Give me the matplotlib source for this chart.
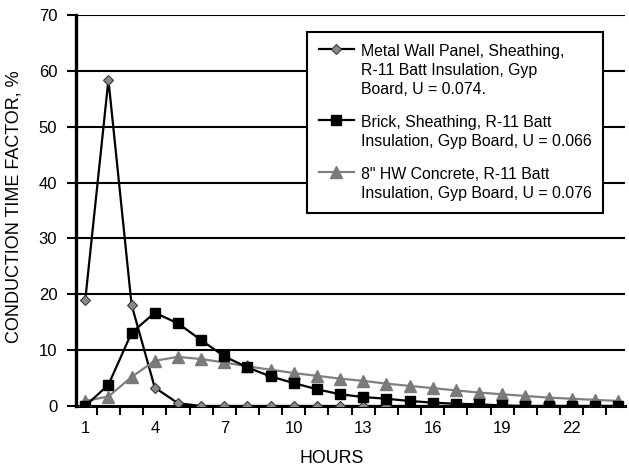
import matplotlib
matplotlib.use("Agg")
import matplotlib.pyplot as plt
import numpy as np

plt.rcParams['font.family'] = ['Liberation Sans', 'DejaVu Sans']

hours = list(range(1, 25))
metal = [19.0, 58.4, 18.1, 3.3, 0.5] + [0.0] * 19
brick = [0.0, 3.8, 13.1, 16.7, 14.8, 11.8, 8.9, 6.9, 5.3, 4.1, 3.0, 2.1,
         1.6, 1.3, 0.9, 0.6, 0.4, 0.3, 0.1, 0.0, 0.0, 0.0, 0.0, 0.0]
concrete = [0.9, 1.7, 5.2, 8.1, 8.8, 8.4, 7.8, 7.1, 6.5, 5.9, 5.4, 4.9,
            4.5, 4.0, 3.6, 3.2, 2.8, 2.4, 2.1, 1.8, 1.5, 1.3, 1.1, 0.9]

labels = ["Metal Wall Panel, Sheathing,\nR-11 Batt Insulation, Gyp\nBoard, U = 0.074.",
          "Brick, Sheathing, R-11 Batt\nInsulation, Gyp Board, U = 0.066",
          "8\" HW Concrete, R-11 Batt\nInsulation, Gyp Board, U = 0.076"]
xlabels = [1, 4, 7, 10, 13, 16, 19, 22]
yticks = [0, 10, 20, 30, 40, 50, 60, 70]

fig = plt.figure(figsize=(6.29, 4.69), dpi=100)
ax = fig.add_axes([76/629, 63/469, 549/629, 391/469])

for y in yticks[1:]:
    ax.axhline(y, color='black', lw=1.5, zorder=1)

l_metal, = ax.plot(hours, metal, color='black', lw=1.6, marker='D', markersize=5.3,
                   markerfacecolor='#8a8a8a', markeredgecolor='#3a3a3a', markeredgewidth=0.8,
                   zorder=3)
l_conc, = ax.plot(hours, concrete, color='#808080', lw=1.6, marker='^', markersize=8,
                  markerfacecolor='#7a7a7a', markeredgecolor='#7a7a7a', zorder=3)
l_brick, = ax.plot(hours, brick, color='black', lw=1.6, marker='s', markersize=7,
                   markerfacecolor='black', markeredgecolor='black', zorder=4)

ax.set_xlim(0.6, 24.3)
ax.set_ylim(0, 70)
ax.set_yticks(yticks)
ax.set_xticks(xlabels)
ax.set_xticks(np.arange(1.5, 24, 1), minor=True)
ax.tick_params(axis='x', which='major', length=0, pad=11, labelsize=12)
ax.tick_params(axis='x', which='minor', length=6.5, width=1.5, direction='out')
ax.tick_params(axis='y', length=6.5, width=1.5, pad=7, labelsize=12)

for s in ['top', 'right']:
    ax.spines[s].set_visible(False)
ax.spines['left'].set_linewidth(2.4)
ax.spines['bottom'].set_linewidth(2.2)
ax.spines['bottom'].set_zorder(2)

ax.set_xlabel("HOURS", fontsize=12.8)
ax.xaxis.set_label_coords(0.466, -0.112)
ax.set_ylabel("CONDUCTION TIME FACTOR, %", fontsize=13)
ax.yaxis.set_label_coords(-0.097, 0.511)

leg = ax.legend([l_metal, l_brick, l_conc], labels,
                loc='upper left', bbox_to_anchor=(0.4208, 0.9565), borderaxespad=0,
                fontsize=11.4, handlelength=2.2, handletextpad=0.45, labelspacing=1.15,
                borderpad=0.75, fancybox=False, framealpha=1, edgecolor='black')
leg.get_frame().set_linewidth(1.5)
leg.set_zorder(5)
for t in leg.get_texts():
    t.set_linespacing(1.32)
# put the key next to the first line of each label
for col in leg._legend_handle_box.get_children():
    for item in col.get_children():
        item.align = "top"

fig.savefig("out.png", dpi=100)
